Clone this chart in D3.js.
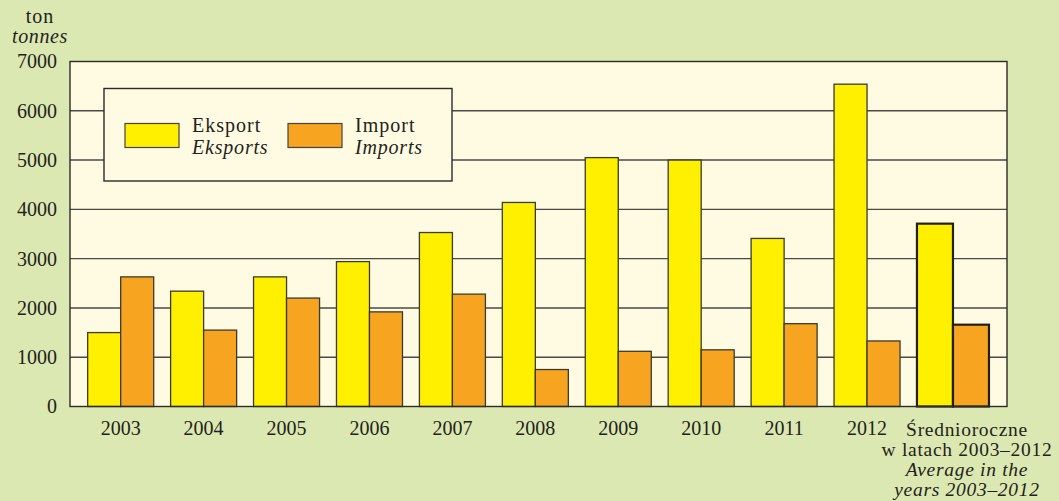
<!DOCTYPE html>
<html>
<head>
<meta charset="utf-8">
<script src="https://cdn.jsdelivr.net/npm/d3@7"></script>
<style>
  body { margin: 0; background: #dce8b1; }
</style>
</head>
<body>
<div id="chart"></div>
<script>
var years = ["2003", "2004", "2005", "2006", "2007", "2008", "2009", "2010", "2011", "2012", "avg"];
var eksport = [1500, 2340, 2630, 2940, 3530, 4140, 5050, 5000, 3410, 6540, 3710];
var imports = [2630, 1550, 2200, 1920, 2280, 750, 1120, 1150, 1680, 1330, 1660];
var yTicks = [0, 1000, 2000, 3000, 4000, 5000, 6000, 7000];
var avgLabel = ["Średnioroczne", "w latach 2003–2012", "Average in the", "years 2003–2012"];

var FONT = "'Liberation Serif', 'DejaVu Serif', 'Times New Roman', serif";
var INK = "#231f20";

var W = 1059, H = 501;
var margin = { top: 61.5, right: 52, bottom: 94.5, left: 70 },
  width = W - margin.left - margin.right,
  height = H - margin.top - margin.bottom;

var svg = d3.select("#chart")
  .append("svg")
  .attr("width", W)
  .attr("height", H)

svg.append("rect").attr("width", W).attr("height", H).attr("fill", "#dce8b1")

var g = svg.append("g")
  .attr("transform", "translate(" + margin.left + "," + margin.top + ")")

var x = d3.scaleBand()
  .domain(years)
  .range([0, width])
  .paddingInner(0.204)
  .paddingOuter(0.2515)
  .align(0.424)

var sub = d3.scaleBand()
  .domain(["e", "i"])
  .range([0, x.bandwidth()])

var y = d3.scaleLinear()
  .domain([0, 7000])
  .range([height, 0])

function label(sel, size, italic, spacing) {
  return sel.style("font-family", FONT)
    .style("font-size", size + "px")
    .style("font-style", italic ? "italic" : "normal")
    .style("letter-spacing", (spacing || 0) + "px")
    .style("fill", INK)
}

// plot background
g.append("rect")
  .attr("width", width)
  .attr("height", height)
  .attr("fill", "#fefbe2")

// gridlines
g.selectAll(".grid")
  .data(yTicks.slice(1, -1))
  .enter()
  .append("line")
  .attr("x1", 0)
  .attr("x2", width)
  .attr("y1", function (d) { return y(d) })
  .attr("y2", function (d) { return y(d) })
  .attr("stroke", "#4a4a44")
  .attr("stroke-width", 1.4)

// legend box (drawn over the grid)
var leg = g.append("g").attr("transform", "translate(34,27)")
leg.append("rect")
  .attr("width", 348)
  .attr("height", 92.5)
  .attr("fill", "#fefbe2")
  .attr("stroke", "#2b2b28")
  .attr("stroke-width", 1.4)
var legItems = [
  { name: "Eksport", en: "Eksports", color: "#fff000", x: 21 },
  { name: "Import", en: "Imports", color: "#f7a520", x: 184 }
]
legItems.forEach(function (it) {
  leg.append("rect")
    .attr("x", it.x).attr("y", 35).attr("width", 54).attr("height", 24)
    .attr("fill", it.color).attr("stroke", "#444").attr("stroke-width", 1.2)
  label(leg.append("text").attr("x", it.x + 67).attr("y", 43), 20, false, 1).text(it.name)
  label(leg.append("text").attr("x", it.x + 67).attr("y", 65), 20, true, 0.8).text(it.en)
})

// bars (average group drawn a bit wider and with heavier outline)
function barW(d) { return d == "avg" ? sub.bandwidth() * 36 / 33 : sub.bandwidth() }

var groups = g.selectAll(".grp")
  .data(years)
  .enter()
  .append("g")
  .attr("transform", function (d) { return "translate(" + x(d) + ",0)" })

groups.append("rect")
  .attr("x", 0)
  .attr("width", barW)
  .attr("y", function (d, i) { return y(eksport[i]) })
  .attr("height", function (d, i) { return height - y(eksport[i]) })
  .attr("fill", "#fff000")
  .attr("stroke", function (d) { return d == "avg" ? "#231f20" : "#3a3a33" })
  .attr("stroke-width", function (d) { return d == "avg" ? 2.2 : 1.3 })

groups.append("rect")
  .attr("x", barW)
  .attr("width", barW)
  .attr("y", function (d, i) { return y(imports[i]) })
  .attr("height", function (d, i) { return height - y(imports[i]) })
  .attr("fill", "#f7a520")
  .attr("stroke", function (d) { return d == "avg" ? "#231f20" : "#3a3a33" })
  .attr("stroke-width", function (d) { return d == "avg" ? 2.2 : 1.3 })

// plot frame
g.append("rect")
  .attr("width", width)
  .attr("height", height)
  .attr("fill", "none")
  .attr("stroke", "#2b2b28")
  .attr("stroke-width", 1.4)

// y axis labels
var yAxis = d3.axisLeft(y).tickValues(yTicks).tickSize(0).tickPadding(13)
  .tickFormat(d3.format("d"))
var ya = g.append("g").call(yAxis)
ya.select(".domain").remove()
label(ya.selectAll("text"), 20, false)

// x axis labels
var xAxis = d3.axisBottom(x).tickSize(0).tickPadding(14)
  .tickFormat(function (d) { return d == "avg" ? "" : d })
var xa = g.append("g").attr("transform", "translate(0," + height + ")").call(xAxis)
xa.select(".domain").remove()
label(xa.selectAll("text"), 20, false)

var avgX = x("avg") + x.bandwidth() / 2 + 17
avgLabel.forEach(function (t, i) {
  label(g.append("text")
    .attr("x", avgX)
    .attr("y", height + 29 + i * 20)
    .attr("text-anchor", "middle"), 19.5, i >= 2, 0.7)
    .text(t)
})

// unit label
label(svg.append("text").attr("x", 40).attr("y", 23).attr("text-anchor", "middle"), 20, false, 1)
  .text("ton")
label(svg.append("text").attr("x", 40).attr("y", 43).attr("text-anchor", "middle"), 20, true, 0.6)
  .text("tonnes")
</script>
</body>
</html>
